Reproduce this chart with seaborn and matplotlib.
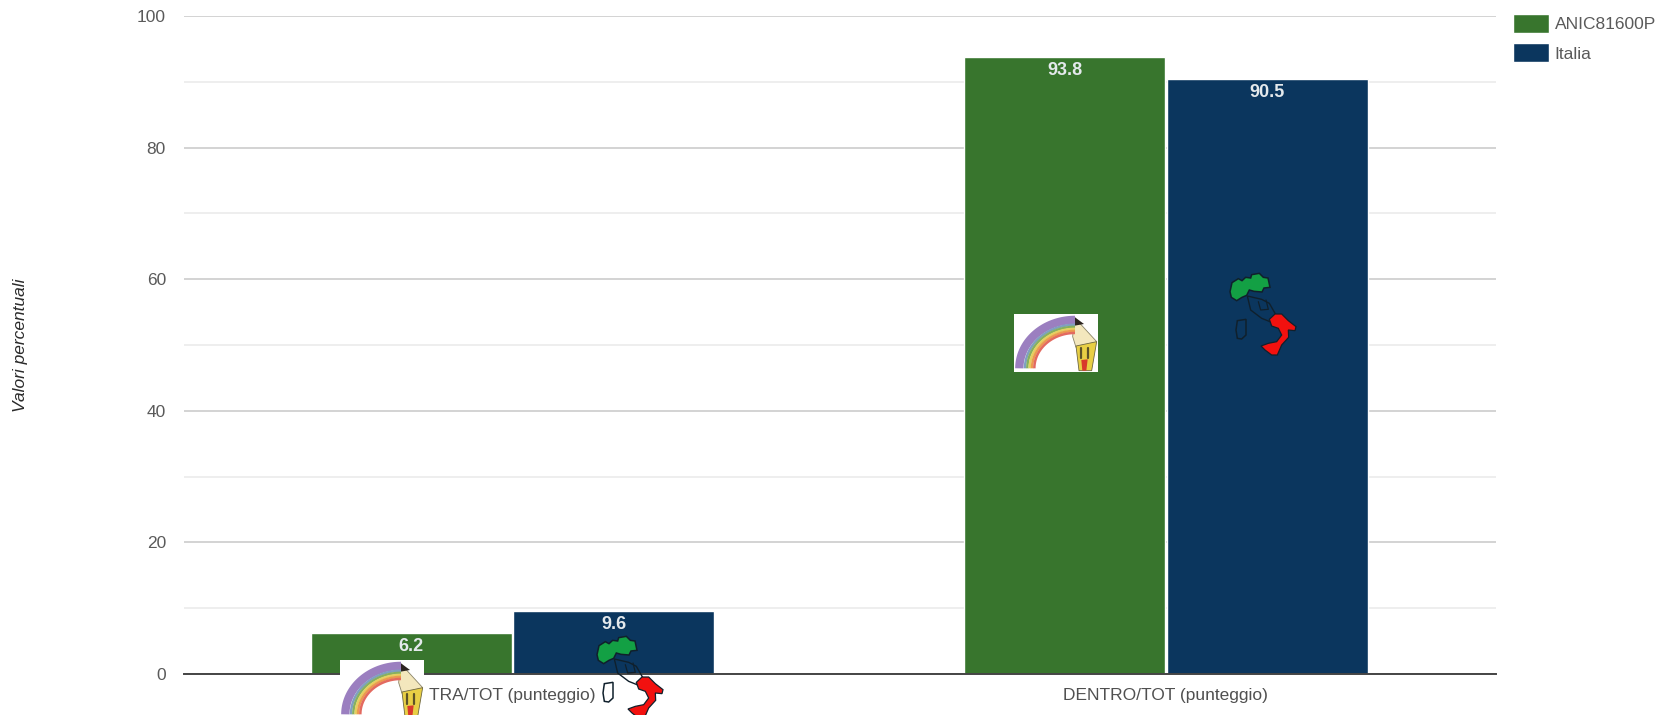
import numpy as np
import pandas as pd
import seaborn as sns
import matplotlib
matplotlib.use('Agg')
import matplotlib.pyplot as plt
from matplotlib.patches import Polygon, Rectangle

categories = ['TRA/TOT (punteggio)', 'DENTRO/TOT (punteggio)']
scuola = [6.2, 93.8]
italia = [9.6, 90.5]
series_names = ['ANIC81600P', 'Italia']
yticks = [0, 20, 40, 60, 80, 100]
minor_ticks = [10, 30, 50, 70, 90]
colors = ['#38752d', '#0b365e']

W, H = 1669, 715


def draw_logo(ov, ox, oy):
    # rainbow + pencil icon, coords are in 3x crop pixels
    def pts(p):
        return [(ox + u / 3, oy + v / 3) for u, v in p]
    ov.add_patch(Rectangle((ox + 34, oy + 54), 84, 58, fc='white', ec='none'))
    t = np.linspace(np.pi, 1.5 * np.pi, 60)
    bands = [(167, '#9b7fc0', 6), (150, '#7f9fc0', 1.8), (143, '#86b060', 1.8),
             (136, '#e5d060', 1.8), (129, '#eb9a50', 1.8), (122, '#e36a60', 1.8)]
    for r, c, lw in bands:
        x = ox + (285 + r * np.cos(t)) / 3
        y = oy + (325 + r * 0.87 * np.sin(t)) / 3
        ov.plot(x, y, color=c, lw=lw, solid_capstyle='butt')
    ov.add_patch(Polygon(pts([(283, 172), (350, 245), (335, 255), (288, 262), (278, 230)]),
                         fc='#f3e7bd', ec='#8a8468', lw=0.6))
    ov.add_patch(Polygon(pts([(285, 172), (312, 192), (284, 197)]), fc='#2c2420', ec='none'))
    ov.add_patch(Polygon(pts([(288, 258), (350, 245), (335, 332), (297, 332)]),
                         fc='#e8cf45', ec='#6d6640', lw=0.6))
    ov.add_patch(Polygon(pts([(304, 300), (323, 298), (319, 332), (307, 332)]),
                         fc='#d8392c', ec='none'))
    for u in (303, 325):
        ov.plot([ox + u / 3, ox + u / 3], [oy + 265 / 3, oy + 295 / 3], color='#5c5228', lw=1.6)


def draw_italy(ov, ox, oy):
    def pts(p):
        return [(ox + u / 3, oy + v / 3) for u, v in p]
    edge = '#10202c'
    north = [(750, 95), (756, 68), (775, 56), (786, 62), (797, 52), (812, 54), (815, 44),
             (838, 40), (850, 52), (864, 54), (870, 82), (852, 84), (846, 96), (822, 94),
             (808, 90), (800, 106), (786, 112), (770, 122), (754, 112)]
    middle = [(802, 108), (845, 118), (868, 130), (888, 165), (870, 185), (845, 175), (812, 150)]
    south = [(868, 178), (885, 162), (905, 162), (925, 182), (948, 200), (945, 212), (925, 210),
             (926, 232), (905, 255), (892, 285), (875, 285), (855, 270), (843, 258), (865, 250),
             (890, 245), (905, 225), (895, 205), (875, 198)]
    sardegna = [(772, 182), (798, 178), (798, 225), (785, 237), (772, 235), (768, 210)]
    ov.add_patch(Polygon(pts(middle), fc='none', ec=edge, lw=1.0))
    ov.plot(*zip(*pts([(835, 125), (842, 150), (865, 148), (858, 120)])), color=edge, lw=0.9)
    ov.add_patch(Polygon(pts(sardegna), fc='none', ec=edge, lw=1.1))
    ov.add_patch(Polygon(pts(north), fc='#13a044', ec=edge, lw=1.1))
    ov.add_patch(Polygon(pts(south), fc='#f2110f', ec=edge, lw=0.9))


sns.set_theme(style='white')
plt.rcParams['font.family'] = ['Liberation Sans', 'DejaVu Sans']

df = pd.DataFrame({
    'cat': categories * 2,
    'val': scuola + italia,
    'serie': [series_names[0]] * 2 + [series_names[1]] * 2,
})

fig = plt.figure(figsize=(W / 100, H / 100), dpi=100)
ax = fig.add_axes([184 / W, 1 - 674 / H, 1312 / W, 658 / H])
sns.barplot(data=df, x='cat', y='val', hue='serie', palette=colors, saturation=1,
            width=0.62, gap=0.008, ax=ax, zorder=3)

ax.set_ylim(0, 100)
ax.set_xlim(-0.5024, 1.5053)
ax.set_yticks(yticks)
ax.set_yticks(minor_ticks, minor=True)
ax.grid(True, which='major', axis='y', color='#cccccc', lw=1.2)
ax.grid(True, which='minor', axis='y', color='#ebebeb', lw=1.2)
ax.set_axisbelow(True)
for s in ['top', 'right', 'left']:
    ax.spines[s].set_visible(False)
ax.spines['bottom'].set_color('#444444')
ax.spines['bottom'].set_linewidth(1.4)
ax.spines['bottom'].set_zorder(4)
ax.tick_params(axis='both', which='both', length=0)
ax.tick_params(axis='y', labelsize=12.5, labelcolor='#5a5a5a', pad=13)
ax.tick_params(axis='x', labelsize=12.5, labelcolor='#505050', pad=10)
ax.set_xlabel('')
ax.set_ylabel('')

for cont in ax.containers:
    ax.bar_label(cont, fmt='%.1f', label_type='edge', padding=-16, color='#e4e9ec',
                 fontsize=13, fontweight='bold')

fig.text(20 / W, 1 - 345 / H, 'Valori percentuali', rotation=90, style='italic',
         fontsize=12.5, color='#2a2a2a', ha='center', va='center')

leg = ax.legend(loc='upper left', bbox_to_anchor=(1513 / W, 1 - 14 / H),
                bbox_transform=fig.transFigure, frameon=False, fontsize=12.5,
                handlelength=2.05, handleheight=1.3, handletextpad=0.35,
                labelspacing=0.6, borderpad=0, borderaxespad=0)
for txt in leg.get_texts():
    txt.set_color('#5a5a5a')

# overlay in pixel coords for the two little icons
ov = fig.add_axes([0, 0, 1, 1], zorder=5)
ov.set_xlim(0, W)
ov.set_ylim(H, 0)
ov.axis('off')
ov.patch.set_alpha(0)
draw_logo(ov, 980, 260)
draw_logo(ov, 306, 606)
draw_italy(ov, 980, 260)
draw_italy(ov, 347, 623)

fig.savefig('out.png', dpi=100, facecolor='white')
